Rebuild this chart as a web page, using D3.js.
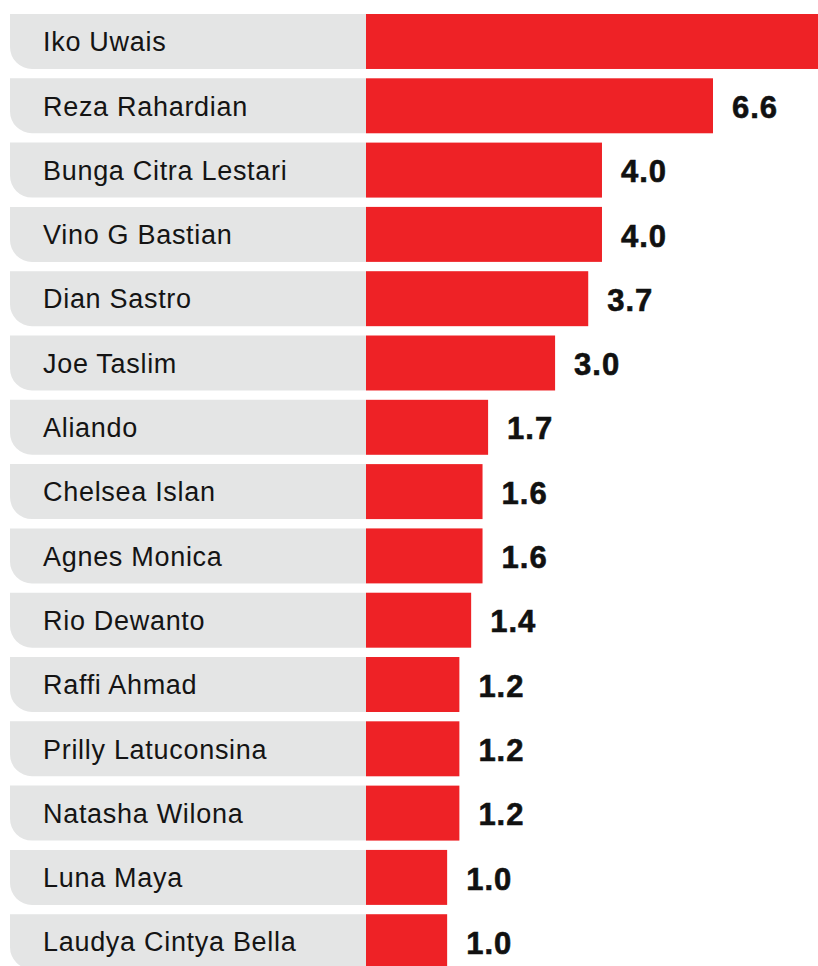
<!DOCTYPE html>
<html>
<head>
<meta charset="utf-8">
<script src="https://cdn.jsdelivr.net/npm/d3@7"></script>
<style>
  html, body { margin: 0; padding: 0; background: #ffffff; }
  svg { display: block; }
</style>
</head>
<body>
<svg id="chart" width="818" height="966"></svg>
<script>
// Names, top to bottom
const names = [
  "Iko Uwais", "Reza Rahardian", "Bunga Citra Lestari", "Vino G Bastian",
  "Dian Sastro", "Joe Taslim", "Aliando", "Chelsea Islan", "Agnes Monica",
  "Rio Dewanto", "Raffi Ahmad", "Prilly Latuconsina", "Natasha Wilona",
  "Luna Maya", "Laudya Cintya Bella"
];
// Score for each name
const values = [9.6, 6.6, 4.0, 4.0, 3.7, 3.0, 1.7, 1.6, 1.6, 1.4, 1.2, 1.2, 1.2, 1.0, 1.0];

const W = 818, H = 966;
const panelX = 10, barX = 366, corner = 22;

const svg = d3.select("#chart");

const y = d3.scaleBand()
  .domain(names)
  .range([14, 969.2])
  .paddingInner(0.145)
  .paddingOuter(0);

// bar length grows sub-linearly with score
const x = d3.scalePow()
  .exponent(0.77)
  .domain([0, 6.6])
  .range([0, 347]);

const rows = svg.selectAll("g.row")
  .data(names.map((n, i) => ({ name: n, value: values[i] })))
  .join("g")
  .attr("class", "row")
  .attr("transform", d => `translate(0,${y(d.name)})`);

const bh = y.bandwidth();

// grey label panel with rounded bottom-left corner
rows.append("path")
  .attr("fill", "#e4e5e5")
  .attr("d", () => {
    const x0 = panelX, x1 = barX, h = bh, r = corner;
    return `M${x0},0 H${x1} V${h} H${x0 + r} A${r},${r} 0 0 1 ${x0},${h - r} Z`;
  });

rows.append("text")
  .attr("x", 43)
  .attr("y", bh / 2)
  .attr("dy", "0.36em")
  .attr("fill", "#141414")
  .style("font-family", "'Liberation Sans', Arial, Helvetica, sans-serif")
  .style("font-size", "27px")
  .style("letter-spacing", "0.7px")
  .text(d => d.name);

rows.append("rect")
  .attr("x", barX)
  .attr("y", 0)
  .attr("width", d => x(d.value))
  .attr("height", bh)
  .attr("fill", "#ee2226");

rows.filter(d => barX + x(d.value) + 80 < W)
  .append("text")
  .attr("x", d => barX + x(d.value) + 19)
  .attr("y", bh / 2 + 1)
  .attr("dy", "0.36em")
  .attr("fill", "#111111")
  .attr("stroke", "#111111")
  .attr("stroke-width", 0.6)
  .style("font-family", "'Liberation Sans', Arial, Helvetica, sans-serif")
  .style("font-size", "31px")
  .style("font-weight", "bold")
  .style("letter-spacing", "1px")
  .text(d => d3.format(".1f")(d.value));
</script>
</body>
</html>
